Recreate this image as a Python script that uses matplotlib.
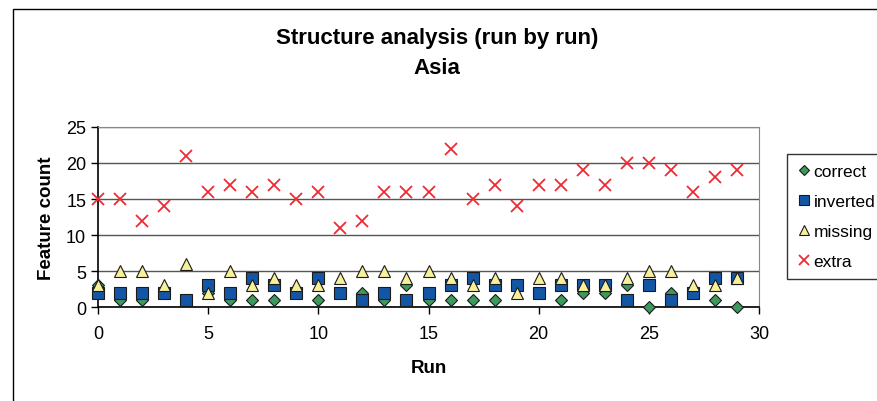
import matplotlib.pyplot as plt
from matplotlib.patches import Rectangle
import numpy as np

plt.rcParams['font.family'] = ['Liberation Sans', 'DejaVu Sans']

runs = np.arange(30)

correct = [3, 1, 1, 2, 1, 2, 1, 1, 1, 2, 1, 2, 2, 1, 3, 1, 1, 1, 1, 3,
           2, 1, 2, 2, 3, 0, 2, 2, 1, 0]
inverted = [2, 2, 2, 2, 1, 3, 2, 4, 3, 2, 4, 2, 1, 2, 1, 2, 3, 4, 3, 3,
            2, 3, 3, 3, 1, 3, 1, 2, 4, 4]
missing = [3, 5, 5, 3, 6, 2, 5, 3, 4, 3, 3, 4, 5, 5, 4, 5, 4, 3, 4, 2,
           4, 4, 3, 3, 4, 5, 5, 3, 3, 4]
extra = [15, 15, 12, 14, 21, 16, 17, 16, 17, 15, 16, 11, 12, 16, 16, 16, 22, 15, 17, 14,
         17, 17, 19, 17, 20, 20, 19, 16, 18, 19]

fig = plt.figure(figsize=(8.77, 4.02), dpi=100)
ax = fig.add_axes([0.1117, 0.2338, 0.7538, 0.4478])

# рамка вокруг всей диаграммы
fig.patches.append(Rectangle((0.015, -0.1), 1.2, 1.075, transform=fig.transFigure,
                             fill=False, edgecolor='black', linewidth=1.0))

ax.plot(runs, correct, linestyle='none', marker='D', markersize=6,
        markerfacecolor='#3c9a5c', markeredgecolor='#1a1a1a', markeredgewidth=0.8,
        label='correct', clip_on=False, zorder=3)
ax.plot(runs, inverted, linestyle='none', marker='s', markersize=8,
        markerfacecolor='#1456a6', markeredgecolor='#1a1a1a', markeredgewidth=0.8,
        label='inverted', clip_on=False, zorder=4)
ax.plot(runs, missing, linestyle='none', marker='^', markersize=8,
        markerfacecolor='#f7ef9a', markeredgecolor='#1a1a1a', markeredgewidth=0.8,
        label='missing', clip_on=False, zorder=5)
ax.plot(runs, extra, linestyle='none', marker='x', markersize=8,
        markeredgecolor='#ee2a33', markeredgewidth=1.3,
        label='extra', clip_on=False, zorder=6)

ax.set_xlim(0, 30)
ax.set_ylim(0, 25)
ax.set_xticks(range(0, 31, 5))
ax.set_yticks(range(0, 26, 5))
ax.tick_params(labelsize=13, direction='out', length=5, width=1)
ax.tick_params(axis='x', pad=8)
ax.yaxis.grid(True, color='#555555', linewidth=1)
ax.set_axisbelow(True)
for side in ['top', 'right']:
    ax.spines[side].set_color('#888888')
for side in ['left', 'bottom']:
    ax.spines[side].set_linewidth(1.2)

ax.set_xlabel('Run', fontsize=13.5, fontweight='bold', labelpad=12)
ax.set_ylabel('Feature count', fontsize=13.5, fontweight='bold', labelpad=8)

fig.text(0.4985, 0.905, 'Structure analysis (run by run)', ha='center', va='center',
         fontsize=16, fontweight='bold')
fig.text(0.4985, 0.83, 'Asia', ha='center', va='center',
         fontsize=16, fontweight='bold')

# легенда справа, чуть обрезана краем как в оригинале
leg = fig.legend(loc='upper left', bbox_to_anchor=(0.897, 0.615), fontsize=12.5,
                 frameon=True, fancybox=False, handletextpad=0.15, handlelength=0.8,
                 borderpad=0.6, borderaxespad=0, labelspacing=0.85,
                 markerscale=0.85)
leg.get_frame().set_edgecolor('black')
leg.get_frame().set_linewidth(1.0)

fig.savefig('out.png', dpi=100)
